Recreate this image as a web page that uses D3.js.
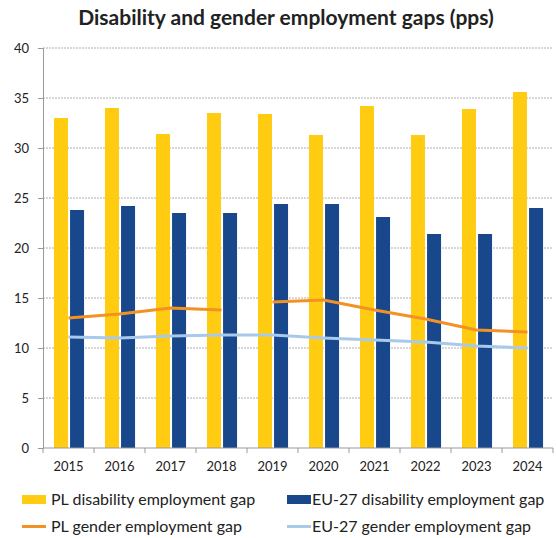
<!DOCTYPE html>
<html lang="en">
<head>
    <meta charset="UTF-8">
    <title>Disability and gender employment gaps</title>
    <script src="https://d3js.org/d3.v7.min.js"></script>
    <style>
        body { margin: 0; background: #fff; }
        text { font-family: Lato, "Open Sans", sans-serif; fill: #222; }
    </style>
</head>
<body>
<svg id="main" width="556" height="538"></svg>
<script>
    // chart data
    const years = ['2015','2016','2017','2018','2019','2020','2021','2022','2023','2024'];
    const plDisability = [33.0, 34.0, 31.4, 33.5, 33.4, 31.3, 34.2, 31.3, 33.9, 35.6];
    const euDisability = [23.8, 24.2, 23.5, 23.5, 24.4, 24.4, 23.1, 21.4, 21.4, 24.0];
    const plGender = [13.0, 13.4, 14.0, 13.8, 14.6, 14.8, 13.8, 12.9, 11.8, 11.6];
    const euGender = [11.1, 11.0, 11.2, 11.3, 11.3, 11.0, 10.8, 10.6, 10.2, 10.0];
    const plGenderBreakAfter = '2018'; // orange line is not joined between 2018 and 2019
    const yTicks = [0, 5, 10, 15, 20, 25, 30, 35, 40];
    const titleText = 'Disability and gender employment gaps (pps)';
    const barNames = ['PL disability employment gap', 'EU-27 disability employment gap'];
    const lineNames = ['PL gender employment gap', 'EU-27 gender employment gap'];

    const barColors = ['#FFCC12', '#18478C'];
    const lineColors = ['#F39224', '#A9C9EB'];

    let svg = d3.select('svg#main');
    let plot = {left: 43, right: 553, top: 48, bottom: 448};

    let xScale = d3.scaleBand().domain(years).range([plot.left, plot.right]);
    let bw = xScale.bandwidth();
    let xSub = d3.scaleBand().domain([0, 1]).range([bw * 0.215, bw * 0.805]).paddingInner(0.13);
    let yScale = d3.scaleLinear().domain([0, 40]).range([plot.bottom, plot.top]);

    // title
    svg.append('text')
        .attr('x', 286).attr('y', 25)
        .attr('text-anchor', 'middle')
        .style('font-size', '21px').style('font-weight', 'bold')
        .text(titleText);

    // gridlines
    svg.append('g').selectAll('line')
        .data(yTicks.filter(d => d > 0))
        .enter().append('line')
        .attr('x1', plot.left).attr('x2', plot.right)
        .attr('y1', d => yScale(d)).attr('y2', d => yScale(d))
        .attr('stroke', '#b0b0b0').attr('stroke-width', 1)
        .attr('stroke-dasharray', '2,1');

    // bars
    let table = years.map((y, i) => ({year: y, vals: [plDisability[i], euDisability[i]]}));
    let groups = svg.append('g').selectAll('g')
        .data(table).enter().append('g')
        .attr('transform', d => `translate(${xScale(d.year)},0)`);
    groups.selectAll('rect')
        .data(d => d.vals)
        .enter().append('rect')
        .attr('x', (d, i) => xSub(i))
        .attr('width', xSub.bandwidth())
        .attr('y', d => yScale(d))
        .attr('height', d => yScale(0) - yScale(d))
        .attr('fill', (d, i) => barColors[i]);

    // lines
    let line = d3.line()
        .x(d => xScale(d.year) + bw / 2)
        .y(d => yScale(d.v));
    let plPts = years.map((y, i) => ({year: y, v: plGender[i]}));
    let cut = years.indexOf(plGenderBreakAfter) + 1;
    let plSegments = [plPts.slice(0, cut), plPts.slice(cut)];
    let euPts = years.map((y, i) => ({year: y, v: euGender[i]}));

    svg.append('g').selectAll('path')
        .data([euPts])
        .enter().append('path')
        .attr('d', line)
        .attr('fill', 'none').attr('stroke', lineColors[1]).attr('stroke-width', 3);
    svg.append('g').selectAll('path')
        .data(plSegments)
        .enter().append('path')
        .attr('d', line)
        .attr('fill', 'none').attr('stroke', lineColors[0]).attr('stroke-width', 3);

    // y axis
    let yAxis = svg.append('g')
        .attr('transform', `translate(${plot.left},0)`)
        .call(d3.axisLeft(yScale).tickValues(yTicks).tickSize(5).tickPadding(9));
    yAxis.select('.domain').attr('stroke', '#999');
    yAxis.selectAll('.tick line').attr('stroke', '#999');
    yAxis.selectAll('text').style('font-size', '13px').style('fill', '#222');

    // x axis
    let xAxis = svg.append('g')
        .attr('transform', `translate(0,${plot.bottom})`)
        .call(d3.axisBottom(xScale).tickSize(0).tickPadding(14));
    xAxis.select('.domain').attr('stroke', '#999').attr('d', `M${plot.left},0H${plot.right}`);
    xAxis.selectAll('text').style('font-size', '13px').style('fill', '#222');
    xAxis.append('g').selectAll('line')
        .data(years.concat(['end']))
        .enter().append('line')
        .attr('x1', (d, i) => plot.left + i * bw).attr('x2', (d, i) => plot.left + i * bw)
        .attr('y1', 0).attr('y2', 5)
        .attr('stroke', '#999');

    // legend
    let legend = svg.append('g');
    let legX = [22, 287];
    barNames.forEach((name, i) => {
        legend.append('rect')
            .attr('x', legX[i]).attr('y', 495)
            .attr('width', 24).attr('height', 9)
            .attr('fill', barColors[i]);
        legend.append('text')
            .attr('x', legX[i] + (i === 0 ? 29 : 25)).attr('y', 505)
            .style('font-size', '16px')
            .text(name);
    });
    lineNames.forEach((name, i) => {
        legend.append('line')
            .attr('x1', legX[i]).attr('x2', legX[i] + 24)
            .attr('y1', 526.5).attr('y2', 526.5)
            .attr('stroke', lineColors[i]).attr('stroke-width', 3);
        legend.append('text')
            .attr('x', legX[i] + (i === 0 ? 29 : 25)).attr('y', 532)
            .style('font-size', '16px')
            .text(name);
    });
</script>
</body>
</html>
